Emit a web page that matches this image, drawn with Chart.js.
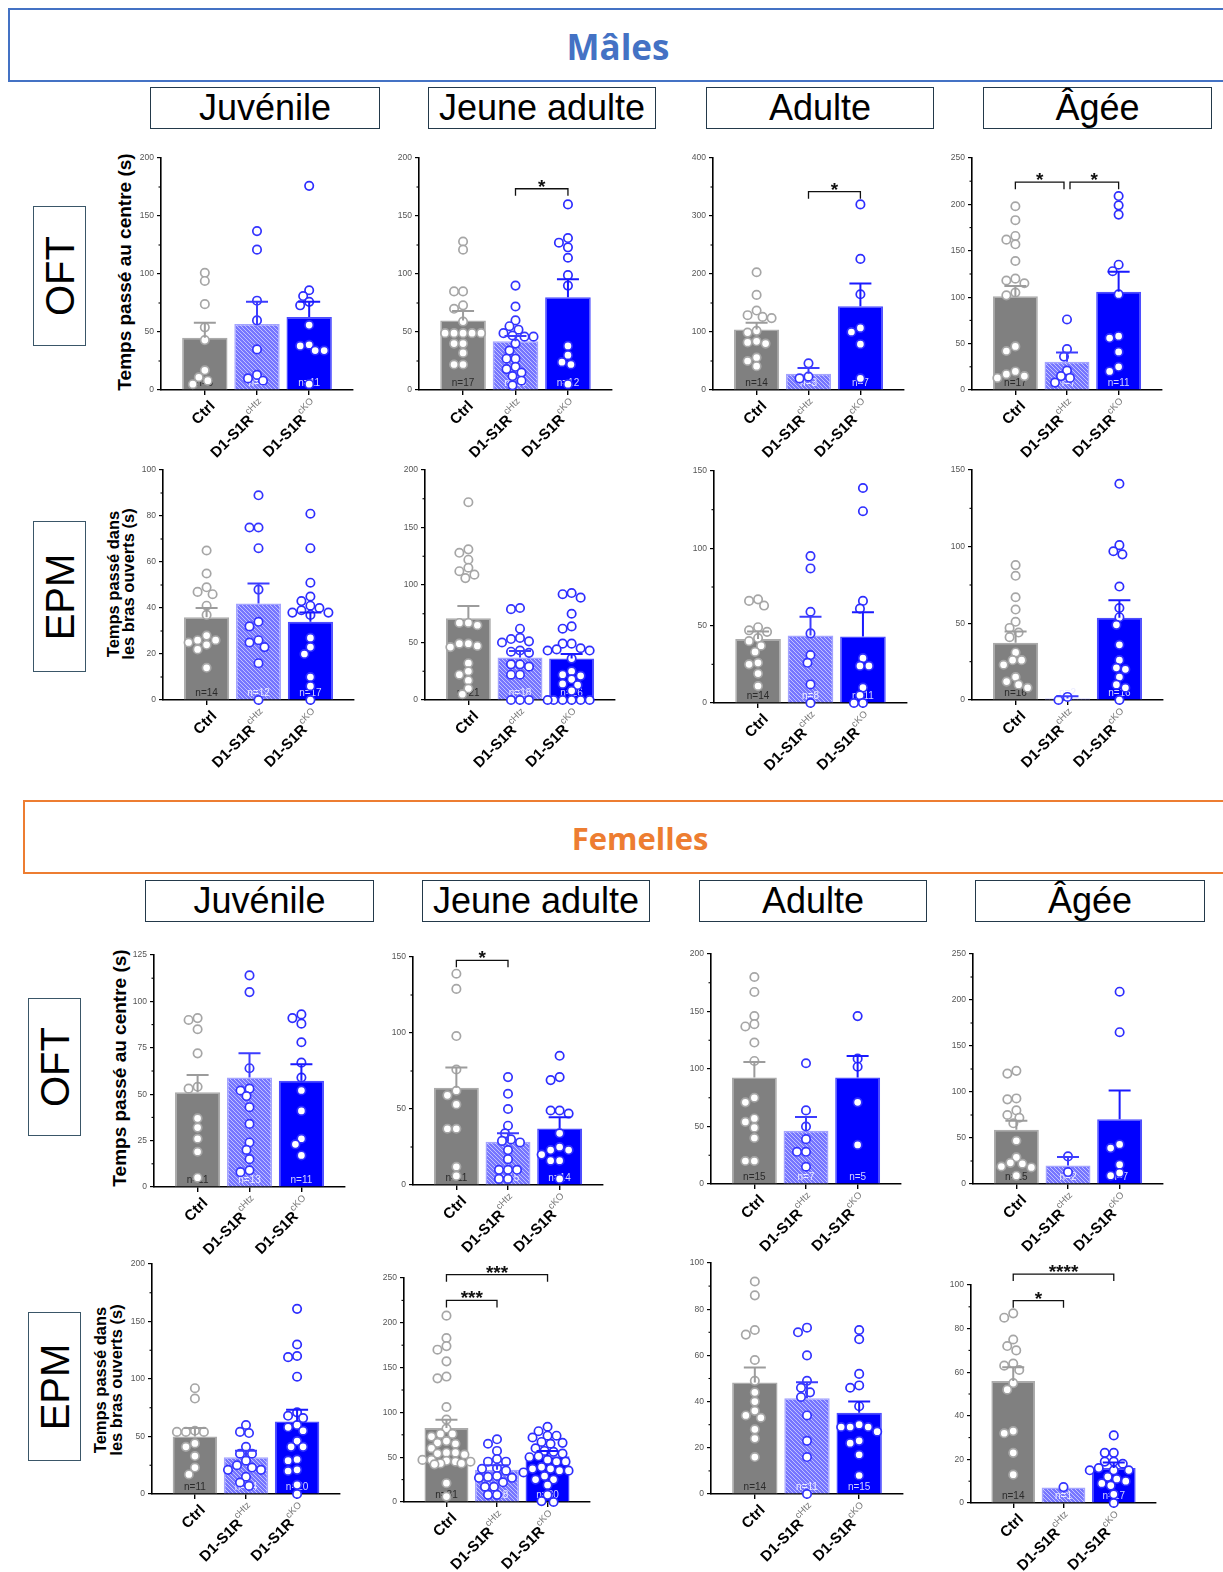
<!DOCTYPE html>
<html>
<head>
<meta charset="utf-8">
<script src="https://cdn.jsdelivr.net/npm/chart.js@4.4.1/dist/chart.umd.min.js"></script>
<style>
  html, body { margin: 0; padding: 0; background: #fff; }
  body { width: 1223px; height: 1572px; position: relative; overflow: hidden; font-family: "Liberation Sans", Arial, sans-serif; }
  .banner { position: absolute; box-sizing: border-box; border: 2px solid; }
  .bannerText { position: absolute; font-family: "Open Sans", sans-serif; font-weight: 700; transform: translate(-50%, -50%); white-space: nowrap; }
  .age { position: absolute; box-sizing: border-box; height: 42px; border: 1.5px solid #23394a; font-size: 36px; color: #000; display: flex; align-items: center; justify-content: center; white-space: nowrap; }
  .test { position: absolute; box-sizing: border-box; border: 1.5px solid #3a5668; }
  .test span { position: absolute; left: 50%; top: 50%; transform: translate(-50%, -50%) rotate(-90deg); font-size: 40px; color: #000; }
  .ytitle { position: absolute; transform: translate(-50%, -50%) rotate(-90deg); font-weight: 700; white-space: nowrap; text-align: center; color: #000; }
  canvas { position: absolute; }
</style>
</head>
<body>

<!-- section banners -->
<div class="banner" style="left:8px;top:8px;width:1240px;height:74px;border-color:#4472c4;"></div>
<div class="bannerText" style="left:618px;top:46px;color:#4472c4;font-size:35px;">Mâles</div>
<div class="banner" style="left:23px;top:800px;width:1240px;height:74px;border-color:#ed7d31;"></div>
<div class="bannerText" style="left:640px;top:838px;color:#ed7d31;font-size:31px;">Femelles</div>

<!-- age columns -->
<div class="age" style="left:150px;top:87px;width:230px;">Juvénile</div>
<div class="age" style="left:428px;top:87px;width:228px;">Jeune adulte</div>
<div class="age" style="left:706px;top:87px;width:228px;">Adulte</div>
<div class="age" style="left:983px;top:87px;width:229px;">Âgée</div>
<div class="age" style="left:145px;top:880px;width:229px;">Juvénile</div>
<div class="age" style="left:422px;top:880px;width:228px;">Jeune adulte</div>
<div class="age" style="left:699px;top:880px;width:228px;">Adulte</div>
<div class="age" style="left:975px;top:880px;width:230px;">Âgée</div>

<!-- test rows -->
<div class="test" style="left:33px;top:206px;width:53px;height:140px;"><span>OFT</span></div>
<div class="test" style="left:33px;top:521px;width:53px;height:151px;"><span>EPM</span></div>
<div class="test" style="left:28px;top:998px;width:53px;height:138px;"><span>OFT</span></div>
<div class="test" style="left:28px;top:1312px;width:53px;height:149px;"><span>EPM</span></div>

<!-- y axis titles -->
<div class="ytitle" style="left:125px;top:272px;font-size:19px;">Temps passé au centre (s)</div>
<div class="ytitle" style="left:121px;top:584px;font-size:16.5px;line-height:15px;">Temps passé dans<br>les bras ouverts (s)</div>
<div class="ytitle" style="left:120px;top:1068px;font-size:19px;">Temps passé au centre (s)</div>
<div class="ytitle" style="left:108px;top:1380px;font-size:16.5px;line-height:16px;">Temps passé dans<br>les bras ouverts (s)</div>

<script>
// Groups shown on every panel
const groupNames = ['Ctrl', 'D1-S1R', 'D1-S1R'];
const groupSup = ['', 'cHtz', 'cKO'];

// ---- Males, OFT (time in centre, s) ----
const mOftJuvAxis = [200, 50];
const mOftJuvMean = [45, 57, 63];
const mOftJuvSem = [13, 19, 13];
const mOftJuvCtrl = [101, 94, 74, 54, 43, 17, 11, 8, 5];
const mOftJuvHtz = [137, 121, 77, 60, 35, 13, 10, 8];
const mOftJuvCko = [176, 86, 81, 76, 73, 56, 39, 38, 34, 34, 5];
const mOftJuvN = [9, 8, 11];
const mOftJuvSig = [];

const mOftJaAxis = [200, 50];
const mOftJaMean = [60, 42, 80];
const mOftJaSem = [8, 4.5, 15.5];
const mOftJaCtrl = [128, 121, 85, 85, 73, 70, 59, 49, 49, 49, 49, 49, 40, 40, 32, 22, 22];
const mOftJaHtz = [90, 72, 60, 55, 52, 49, 47, 46, 46, 40, 34, 27, 27, 20, 18, 15, 12, 8, 4];
const mOftJaCko = [160, 131, 127, 123, 114, 99, 90, 38, 30, 24, 22, 5];
const mOftJaN = [17, 19, 12];
const mOftJaSig = [[1, 2, '*', 173.5]];

const mOftAdAxis = [400, 100];
const mOftAdMean = [104.5, 28, 144.5];
const mOftAdSem = [11.5, 10, 39];
const mOftAdCtrl = [203, 164, 137, 129, 126, 124, 102, 99, 84, 82, 80, 56, 50, 41];
const mOftAdHtz = [46, 23, 20];
const mOftAdCko = [320, 226, 165, 107, 100, 79, 20];
const mOftAdN = [14, 3, 7];
const mOftAdSig = [[1, 2, '*', 342]];

const mOftAgAxis = [250, 50];
const mOftAgMean = [101, 30.5, 106];
const mOftAgSem = [11, 10, 21.5];
const mOftAgCtrl = [198, 183, 166, 162, 157, 139, 120, 118, 115, 105, 102, 47, 42, 20, 17, 15, 13];
const mOftAgHtz = [76, 44, 36, 21, 15, 13, 8];
const mOftAgCko = [209, 199, 189, 135, 128, 103, 58, 56, 41, 25, 20];
const mOftAgN = [17, 7, 11];
const mOftAgSig = [[0, 1, '*', 224], [1, 2, '*', 224]];

// ---- Males, EPM (time in open arms, s) ----
const mEpmJuvAxis = [100, 20];
const mEpmJuvMean = [36, 42, 34];
const mEpmJuvSem = [4, 8.6, 4];
const mEpmJuvCtrl = [65, 55, 49, 47, 46, 41, 37, 28, 26, 26, 25, 24, 22, 14];
const mEpmJuvHtz = [89, 75, 75, 66, 48, 34, 32, 26, 25, 23, 16, 0];
const mEpmJuvCko = [81, 66, 51, 45, 43, 41, 40, 39, 38, 38, 37, 27, 23, 20, 10, 6, 0];
const mEpmJuvN = [14, 12, 17];
const mEpmJuvSig = [];

const mEpmJaAxis = [200, 50];
const mEpmJaMean = [71, 37, 36];
const mEpmJaSem = [10.7, 5.6, 4];
const mEpmJaCtrl = [172, 131, 128, 122, 115, 112, 109, 106, 67, 67, 65, 49, 49, 47, 46, 32, 25, 22, 17, 10, 5];
const mEpmJaHtz = [80, 79, 62, 54, 53, 51, 50, 43, 42, 41, 31, 31, 29, 22, 22, 0, 0, 0];
const mEpmJaCko = [93, 92, 89, 75, 64, 62, 49, 49, 45, 44, 43, 43, 36, 25, 22, 21, 18, 14, 13, 8, 0, 0, 0, 0, 0, 0];
const mEpmJaN = [21, 18, 26];
const mEpmJaSig = [];

const mEpmAdAxis = [150, 50];
const mEpmAdMean = [41.3, 43.6, 43];
const mEpmAdSem = [5, 12.2, 15.7];
const mEpmAdCtrl = [67, 66, 63, 49, 47, 46, 42, 40, 37, 33, 26, 25, 19, 11];
const mEpmAdHtz = [95, 87, 59, 45, 31, 26, 12, 0];
const mEpmAdCko = [139, 124, 66, 61, 29, 24, 24, 10, 5, 0, 0];
const mEpmAdN = [14, 8, 11];
const mEpmAdSig = [];

const mEpmAgAxis = [150, 50];
const mEpmAgMean = [37.4, 1, 53.7];
const mEpmAgSem = [7.2, 1.5, 11.3];
const mEpmAgCtrl = [88, 81, 67, 59, 51, 47, 44, 41, 31, 26, 26, 23, 15, 12, 10, 8];
const mEpmAgHtz = [2, 0];
const mEpmAgCko = [141, 101, 97, 95, 74, 60, 54, 49, 36, 26, 21, 20, 15, 10, 8, 0];
const mEpmAgN = [16, 2, 16];
const mEpmAgSig = [];

// ---- Females, OFT ----
const fOftJuvAxis = [125, 25];
const fOftJuvMean = [51, 59, 57.2];
const fOftJuvSem = [9.3, 13, 9];
const fOftJuvCtrl = [91, 90, 85, 72, 54, 53, 37, 32, 26, 19, 5];
const fOftJuvHtz = [114, 105, 64, 53, 52, 49, 43, 34, 24, 20, 15, 9, 8];
const fOftJuvCko = [93, 91, 88, 78, 67, 59, 52, 41, 26, 23, 17];
const fOftJuvN = [11, 13, 11];
const fOftJuvSig = [];

const fOftJaAxis = [150, 50];
const fOftJaMean = [64, 28.5, 37.2];
const fOftJaSem = [13.3, 5.5, 7.3];
const fOftJaCtrl = [139, 129, 98, 76, 62, 59, 53, 37, 37, 12, 6];
const fOftJaHtz = [71, 60, 50, 39, 34, 30, 29, 28, 23, 17, 10, 10, 10, 4, 4];
const fOftJaCko = [85, 71, 69, 49, 49, 47, 34, 25, 23, 23, 20, 16, 16, 4];
const fOftJaN = [11, 15, 14];
const fOftJaSig = [[0, 1, '*', 147.8]];

const fOftAdAxis = [200, 50];
const fOftAdMean = [92.6, 46.3, 92.6];
const fOftAdSem = [13.4, 11.9, 18.8];
const fOftAdCtrl = [180, 167, 146, 139, 137, 123, 107, 75, 71, 57, 54, 49, 40, 20, 20];
const fOftAdHtz = [105, 64, 50, 39, 28, 28, 15];
const fOftAdCko = [146, 109, 102, 71, 34];
const fOftAdN = [15, 7, 5];
const fOftAdSig = [];

const fOftAgAxis = [250, 50];
const fOftAgMean = [59, 20.2, 70.5];
const fOftAgSem = [9.7, 9.1, 31];
const fOftAgCtrl = [123, 120, 93, 92, 80, 75, 72, 66, 47, 29, 23, 22, 19, 18, 9];
const fOftAgHtz = [30, 13];
const fOftAgCko = [209, 165, 43, 39, 21, 12, 9];
const fOftAgN = [15, 2, 7];
const fOftAgSig = [];

// ---- Females, EPM ----
const fEpmJuvAxis = [200, 50];
const fEpmJuvMean = [50, 32, 63];
const fEpmJuvSem = [7.3, 5.6, 10.2];
const fEpmJuvCtrl = [92, 83, 55, 54, 54, 54, 44, 41, 33, 23, 17];
const fEpmJuvHtz = [60, 54, 53, 41, 35, 35, 29, 25, 23, 21, 21, 15, 10, 7];
const fEpmJuvCko = [161, 130, 120, 119, 102, 71, 68, 66, 60, 58, 55, 46, 41, 41, 30, 29, 21, 20, 8, 0];
const fEpmJuvN = [11, 14, 20];
const fEpmJuvSig = [];

const fEpmJaAxis = [250, 50];
const fEpmJaMean = [82.6, 36, 51];
const fEpmJaSem = [9.3, 5, 6];
const fEpmJaCtrl = [208, 183, 174, 170, 157, 140, 138, 106, 92, 82, 76, 76, 73, 68, 66, 65, 60, 55, 55, 54, 53, 47, 47, 46, 45, 45, 43, 43, 42, 21, 6];
const fEpmJaHtz = [70, 65, 57, 48, 45, 45, 38, 37, 35, 29, 28, 27, 27, 22, 17, 17, 8, 8];
const fEpmJaCko = [84, 79, 74, 74, 72, 67, 66, 65, 60, 57, 56, 54, 51, 50, 47, 45, 45, 39, 37, 37, 35, 35, 33, 29, 25, 25, 19, 8, 1, 0];
const fEpmJaN = [31, 18, 30];
const fEpmJaSig = [[0, 1, '***', 225], [0, 2, '***', 253.7]];

const fEpmAdAxis = [100, 20];
const fEpmAdMean = [48.3, 41.4, 35.2];
const fEpmAdSem = [6.5, 7, 4.8];
const fEpmAdCtrl = [92, 86, 71, 69, 58, 49, 44, 40, 36, 34, 33, 28, 24, 16];
const fEpmAdHtz = [72, 70, 60, 49, 46, 44, 42, 34, 23, 16, 0];
const fEpmAdCko = [71, 67, 52, 47, 46, 38, 30, 29, 29, 29, 27, 23, 22, 17, 8];
const fEpmAdN = [14, 11, 15];
const fEpmAdSig = [];

const fEpmAgAxis = [100, 20];
const fEpmAgMean = [56, 7.1, 16];
const fEpmAgSem = [6.3, 0, 2.6];
const fEpmAgCtrl = [87, 85, 75, 72, 70, 64, 63, 61, 55, 52, 33, 32, 23, 13];
const fEpmAgHtz = [7.3];
const fEpmAgCko = [31, 23, 23, 19, 19, 18, 16, 15, 15, 15, 12, 11, 10, 9, 8, 4, 0];
const fEpmAgN = [14, 1, 17];
const fEpmAgSig = [[0, 1, '*', 92.8], [0, 2, '****', 105]];

// Page placement of each plot area: [axis x, top of y axis, y of zero line, right end of x axis]
const panels = [
  { axis: mOftJuvAxis, mean: mOftJuvMean, sem: mOftJuvSem, pts: [mOftJuvCtrl, mOftJuvHtz, mOftJuvCko], n: mOftJuvN, sig: mOftJuvSig, box: [161, 158, 390, 353] },
  { axis: mOftJaAxis, mean: mOftJaMean, sem: mOftJaSem, pts: [mOftJaCtrl, mOftJaHtz, mOftJaCko], n: mOftJaN, sig: mOftJaSig, box: [419, 158, 390, 612] },
  { axis: mOftAdAxis, mean: mOftAdMean, sem: mOftAdSem, pts: [mOftAdCtrl, mOftAdHtz, mOftAdCko], n: mOftAdN, sig: mOftAdSig, box: [713, 158, 390, 904] },
  { axis: mOftAgAxis, mean: mOftAgMean, sem: mOftAgSem, pts: [mOftAgCtrl, mOftAgHtz, mOftAgCko], n: mOftAgN, sig: mOftAgSig, box: [972, 158, 390, 1162] },
  { axis: mEpmJuvAxis, mean: mEpmJuvMean, sem: mEpmJuvSem, pts: [mEpmJuvCtrl, mEpmJuvHtz, mEpmJuvCko], n: mEpmJuvN, sig: mEpmJuvSig, box: [163, 470, 700, 354] },
  { axis: mEpmJaAxis, mean: mEpmJaMean, sem: mEpmJaSem, pts: [mEpmJaCtrl, mEpmJaHtz, mEpmJaCko], n: mEpmJaN, sig: mEpmJaSig, box: [425, 470, 700, 615] },
  { axis: mEpmAdAxis, mean: mEpmAdMean, sem: mEpmAdSem, pts: [mEpmAdCtrl, mEpmAdHtz, mEpmAdCko], n: mEpmAdN, sig: mEpmAdSig, box: [714, 471, 703, 907] },
  { axis: mEpmAgAxis, mean: mEpmAgMean, sem: mEpmAgSem, pts: [mEpmAgCtrl, mEpmAgHtz, mEpmAgCko], n: mEpmAgN, sig: mEpmAgSig, box: [972, 470, 700, 1163] },
  { axis: fOftJuvAxis, mean: fOftJuvMean, sem: fOftJuvSem, pts: [fOftJuvCtrl, fOftJuvHtz, fOftJuvCko], n: fOftJuvN, sig: fOftJuvSig, box: [154, 955, 1187, 345] },
  { axis: fOftJaAxis, mean: fOftJaMean, sem: fOftJaSem, pts: [fOftJaCtrl, fOftJaHtz, fOftJaCko], n: fOftJaN, sig: fOftJaSig, box: [413, 957, 1185, 603] },
  { axis: fOftAdAxis, mean: fOftAdMean, sem: fOftAdSem, pts: [fOftAdCtrl, fOftAdHtz, fOftAdCko], n: fOftAdN, sig: fOftAdSig, box: [711, 954, 1184, 901] },
  { axis: fOftAgAxis, mean: fOftAgMean, sem: fOftAgSem, pts: [fOftAgCtrl, fOftAgHtz, fOftAgCko], n: fOftAgN, sig: fOftAgSig, box: [973, 954, 1184, 1163] },
  { axis: fEpmJuvAxis, mean: fEpmJuvMean, sem: fEpmJuvSem, pts: [fEpmJuvCtrl, fEpmJuvHtz, fEpmJuvCko], n: fEpmJuvN, sig: fEpmJuvSig, box: [152, 1264, 1494, 340] },
  { axis: fEpmJaAxis, mean: fEpmJaMean, sem: fEpmJaSem, pts: [fEpmJaCtrl, fEpmJaHtz, fEpmJaCko], n: fEpmJaN, sig: fEpmJaSig, box: [404, 1278, 1502, 590] },
  { axis: fEpmAdAxis, mean: fEpmAdMean, sem: fEpmAdSem, pts: [fEpmAdCtrl, fEpmAdHtz, fEpmAdCko], n: fEpmAdN, sig: fEpmAdSig, box: [711, 1263, 1494, 903] },
  { axis: fEpmAgAxis, mean: fEpmAgMean, sem: fEpmAgSem, pts: [fEpmAgCtrl, fEpmAgHtz, fEpmAgCko], n: fEpmAgN, sig: fEpmAgSig, box: [971, 1285, 1503, 1156] }
];

// Group styling
const barFill = ['#808080', null, '#0000ff'];
const barEdge = ['#ababab', '#a4a4ff', '#4d4dff'];
const ptEdge = ['#a6a6a6', '#3434ff', '#2d2dff'];
const errColor = ['#9c9c9c', '#3c3cff', '#1a1aff'];
const nColor = ['#2a2a2a', '#ececff', '#d4d4ff'];

// Fine diagonal hatch used for the heterozygous group
function makeHatch() {
  const c = document.createElement('canvas');
  c.width = 4; c.height = 4;
  const g = c.getContext('2d');
  g.fillStyle = '#7676ff';
  g.fillRect(0, 0, 4, 4);
  g.fillStyle = 'rgba(255,255,255,0.55)';
  for (let i = 0; i < 4; i++) g.fillRect(i, i, 1, 1);
  return g.createPattern(c, 'repeat');
}
barFill[1] = makeHatch();

const FONT = '"Liberation Sans", Arial, sans-serif';
const MARGIN_L = 46, MARGIN_T = 46, MARGIN_R = 12, MARGIN_B = 90;
const PT_R = 4.2;
const SWARM_GAP = 7.8;   // minimum centre distance between neighbouring points
const SWARM_STEP = 3;    // sideways search step
const SWARM_MAX = 24;    // widest sideways shift

function decorPlugin(p) {
  return {
    id: 'panelDecor',
    // spread the points of each group sideways so they do not pile up
    afterDatasetsUpdate(chart) {
      const meta = chart.getDatasetMeta(1);
      const raw = chart.data.datasets[1].data;
      const xs = chart.scales.x;
      const groups = {};
      meta.data.forEach((el, i) => { (groups[raw[i].x] = groups[raw[i].x] || []).push(el); });
      Object.keys(groups).forEach(g => {
        const base = xs.getPixelForValue(+g);
        const placed = [];
        groups[g].slice().sort((a, b) => a.y - b.y).forEach(el => {
          let best = null, bestD = -1;
          for (let k = 0; k <= 2 * SWARM_MAX / SWARM_STEP; k++) {
            const off = (k === 0 ? 0 : (k % 2 ? -1 : 1) * Math.ceil(k / 2)) * SWARM_STEP;
            const x = base + off;
            const d = placed.reduce((m, q) => Math.min(m, Math.hypot(q.x - x, q.y - el.y)), Infinity);
            if (d >= SWARM_GAP) { best = x; break; }
            if (d > bestD + 0.5) { bestD = d; best = x; }
          }
          el.x = best;
          placed.push({ x: best, y: el.y });
        });
      });
    },
    // group sizes written at the foot of each bar
    afterDatasetDraw(chart, args) {
      if (args.index !== 0) return;
      const ctx = chart.ctx;
      const ys = chart.scales.y;
      const meta = chart.getDatasetMeta(0);
      ctx.save();
      ctx.font = '10px ' + FONT;
      ctx.textAlign = 'center';
      ctx.textBaseline = 'middle';
      meta.data.forEach((el, i) => {
        ctx.fillStyle = nColor[i];
        ctx.fillText('n=' + p.n[i], el.x, ys.getPixelForValue(0) - 7);
      });
      ctx.restore();
    },
    afterDatasetsDraw(chart) {
      const ctx = chart.ctx;
      const xs = chart.scales.x, ys = chart.scales.y;
      const meta = chart.getDatasetMeta(0);
      ctx.save();
      // SEM bars (upper side only)
      ctx.lineWidth = 2;
      meta.data.forEach((el, i) => {
        if (!p.sem[i]) return;
        const y0 = ys.getPixelForValue(p.mean[i]);
        const y1 = ys.getPixelForValue(p.mean[i] + p.sem[i]);
        ctx.strokeStyle = errColor[i];
        ctx.beginPath();
        ctx.moveTo(el.x, y0); ctx.lineTo(el.x, y1);
        ctx.moveTo(el.x - 11, y1); ctx.lineTo(el.x + 11, y1);
        ctx.stroke();
      });
      // minor ticks on the y axis
      const ax = chart.chartArea.left;
      ctx.strokeStyle = '#000';
      ctx.lineWidth = 1.1;
      for (let v = p.axis[1] / 2; v < p.axis[0]; v += p.axis[1]) {
        const y = ys.getPixelForValue(v);
        ctx.beginPath(); ctx.moveTo(ax - 2.5, y); ctx.lineTo(ax, y); ctx.stroke();
      }
      // significance brackets
      ctx.strokeStyle = '#111';
      ctx.fillStyle = '#111';
      ctx.lineWidth = 1.3;
      ctx.font = 'bold 19px ' + FONT;
      ctx.textAlign = 'center';
      ctx.textBaseline = 'alphabetic';
      p.sig.forEach(s => {
        const [a, b, label, level] = s;
        const shared = c => p.sig.some(o => o !== s && o[3] === level && (o[0] === c || o[1] === c));
        const x1 = xs.getPixelForValue(a) + (shared(a) ? 3 : 0);
        const x2 = xs.getPixelForValue(b) - (shared(b) ? 3 : 0);
        const y = ys.getPixelForValue(level);
        ctx.beginPath();
        ctx.moveTo(x1, y + 7); ctx.lineTo(x1, y); ctx.lineTo(x2, y); ctx.lineTo(x2, y + 7);
        ctx.stroke();
        ctx.fillText(label, (x1 + x2) / 2, y + 4);
      });
      ctx.restore();
    },
    // rotated group names with superscript genotype
    afterDraw(chart) {
      const ctx = chart.ctx;
      const xs = chart.scales.x, ys = chart.scales.y;
      const y0 = ys.getPixelForValue(0);
      const mainFont = 'bold 15px ' + FONT, supFont = '9.5px ' + FONT;
      groupNames.forEach((name, i) => {
        const sup = groupSup[i];
        ctx.save();
        ctx.translate(xs.getPixelForValue(i) + 8, y0 + 14);
        ctx.rotate(-Math.PI / 4);
        ctx.font = supFont;
        const sw = sup ? ctx.measureText(sup).width + 0.5 : 0;
        ctx.font = mainFont;
        ctx.textAlign = 'right';
        ctx.textBaseline = 'middle';
        ctx.fillStyle = '#000';
        ctx.fillText(name, -sw, 0);
        if (sup) {
          ctx.font = supFont;
          ctx.textAlign = 'left';
          ctx.fillStyle = '#7a7a7a';
          ctx.fillText(sup, -sw, -6.5);
        }
        ctx.restore();
      });
    }
  };
}

function drawPanel(p) {
  const [ax, top, zero, end] = p.box;
  const plotW = end - ax, plotH = zero - top;
  const cv = document.createElement('canvas');
  cv.width = MARGIN_L + plotW + MARGIN_R;
  cv.height = MARGIN_T + plotH + MARGIN_B;
  cv.style.left = (ax - MARGIN_L) + 'px';
  cv.style.top = (top - MARGIN_T) + 'px';
  cv.style.width = cv.width + 'px';
  cv.style.height = cv.height + 'px';
  document.body.appendChild(cv);

  const points = [], pointColors = [];
  p.pts.forEach((vals, g) => vals.forEach(v => { points.push({ x: g, y: v }); pointColors.push(ptEdge[g]); }));

  new Chart(cv, {
    type: 'bar',
    data: {
      datasets: [
        {
          type: 'bar',
          data: p.mean.map((v, i) => ({ x: i, y: v })),
          backgroundColor: barFill,
          borderColor: barEdge,
          borderWidth: 1.5,
          categoryPercentage: 1,
          barPercentage: 0.87,
          order: 2
        },
        {
          type: 'scatter',
          data: points,
          pointRadius: PT_R,
          pointBorderWidth: 1.7,
          pointBackgroundColor: '#ffffff',
          pointBorderColor: pointColors,
          clip: false,
          order: 1
        }
      ]
    },
    options: {
      responsive: false,
      animation: false,
      devicePixelRatio: 1,
      events: [],
      layout: { padding: { left: 0, top: MARGIN_T, right: MARGIN_R, bottom: 0 } },
      plugins: { legend: { display: false }, tooltip: { enabled: false } },
      scales: {
        x: {
          type: 'linear',
          min: -0.84,
          max: 2.84,
          offset: false,
          afterBuildTicks: s => { s.ticks = [0, 1, 2].map(v => ({ value: v })); },
          afterFit: s => { s.height = MARGIN_B; },
          ticks: { display: false },
          grid: { display: true, offset: false, drawOnChartArea: false, drawTicks: true, tickLength: 5, color: '#000', lineWidth: 1.4 },
          border: { display: true, color: '#000', width: 1.6 }
        },
        y: {
          min: 0,
          max: p.axis[0],
          afterFit: s => { s.width = MARGIN_L; },
          ticks: { stepSize: p.axis[1], font: { family: 'Liberation Sans', size: 8.5 }, color: '#555', padding: 3 },
          grid: { drawOnChartArea: false, drawTicks: true, tickLength: 4, color: '#000', lineWidth: 1.2 },
          border: { display: true, color: '#000', width: 1.6 }
        }
      }
    },
    plugins: [decorPlugin(p)]
  });
}

panels.forEach(drawPanel);
</script>
</body>
</html>
